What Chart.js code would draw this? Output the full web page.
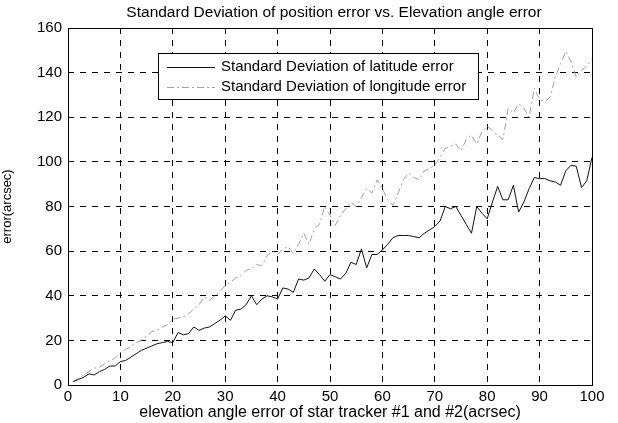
<!DOCTYPE html>
<html>
<head>
<meta charset="utf-8">
<script src="https://cdn.jsdelivr.net/npm/chart.js"></script>
<style>
  html, body { margin: 0; padding: 0; background: #fff; }
  #wrap { width: 618px; height: 423px; }
</style>
</head>
<body>
<div id="wrap"><canvas id="chartErr" width="618" height="423"></canvas></div>
<script>
// elevation angle error (acrsec)
const elevErr = [];
for (let i = 1; i <= 100; i++) elevErr.push(i);

// std dev of latitude error (arcsec)
const latErr = [1.5, 2.5, 3.5, 5, 4.5, 6, 7, 8.5, 8.5, 10.5,
  11, 12.5, 14, 15.5, 16.5, 17.5, 18.5, 19, 19.5, 19,
  23.5, 22.5, 23, 26, 24.5, 25.5, 26, 27.5, 29, 31,
  29, 33.5, 34, 36, 40, 36, 38.5, 40, 39.5, 38.5,
  43.5, 43, 41.5, 47.5, 47, 48, 52, 49.5, 46.5, 49.5,
  48.5, 47.5, 50, 55, 54, 61, 52.5, 58.5, 58.5, 60.5,
  63, 66, 67, 67, 67, 66.5, 66, 68, 69.5, 71,
  73.5, 80, 79, 80, 76, 72, 68, 80, 77, 74.5,
  82, 89, 83, 83, 89.5, 77.5, 82, 88, 93, 92.5,
  92.5, 91.5, 91, 89.5, 96, 98.5, 98, 88.5, 91.5, 102];

// std dev of longitude error (arcsec)
const lonErr = [1.5, 3, 4.5, 6, 7.5, 8, 9.5, 11, 12, 14.5,
  16, 17, 19, 20, 22, 24, 24.5, 26, 27, 29.5,
  30, 30.5, 32, 34, 36, 39.5, 38, 40, 42, 44.5,
  46, 48, 49, 51.5, 52, 54, 53.5, 58, 60, 58.5,
  61, 62, 59, 63, 68, 63, 70, 72, 80, 76,
  71.5, 76, 79, 82, 80, 84, 88, 86, 92, 88,
  83, 80.5, 86, 92, 95, 93, 92, 96, 97, 98.5,
  102, 106, 107, 108, 105, 110, 112, 108, 113.5, 116,
  114, 112, 110, 124, 122, 126, 124, 120, 133, 128,
  127, 129, 138, 144, 149.5, 145, 138, 141, 143, 146];

const xTicks = [0, 10, 20, 30, 40, 50, 60, 70, 80, 90, 100];
const yTicks = [0, 20, 40, 60, 80, 100, 120, 140, 160];

const chartTitle = 'Standard Deviation of position error vs. Elevation angle error';
const seriesNames = ['Standard Deviation of latitude error', 'Standard Deviation of longitude error'];

const FONT = '"Liberation Sans", Arial, sans-serif';

// title centred over the axes, plot frame, and matlab-like legend inside the axes
const frameAndLegend = {
  id: 'frameAndLegend',
  afterDatasetsDraw(chart) {
    const { ctx, chartArea: a } = chart;
    ctx.save();
    ctx.strokeStyle = '#000';
    ctx.lineWidth = 1;
    ctx.setLineDash([]);
    ctx.strokeRect(a.left + 0.5, a.top + 0.5, a.right - a.left, a.bottom - a.top);

    ctx.fillStyle = '#000';
    ctx.font = '15.5px ' + FONT;
    ctx.textAlign = 'center';
    ctx.textBaseline = 'middle';
    ctx.fillText(chartTitle, (a.left + a.right) / 2 + 4, 13);

    // legend box
    const bx = a.left + 90, by = a.top + 25, bw = 320, bh = 46;
    ctx.fillStyle = '#fff';
    ctx.fillRect(bx, by, bw, bh);
    ctx.strokeRect(bx + 0.5, by + 0.5, bw, bh);
    ctx.font = '15px ' + FONT;
    ctx.textAlign = 'left';
    ctx.fillStyle = '#000';
    const ds = chart.data.datasets;
    for (let i = 0; i < 2; i++) {
      const yy = by + 14 + i * 20;
      ctx.strokeStyle = ds[i].borderColor;
      ctx.setLineDash(ds[i].borderDash || []);
      ctx.beginPath();
      ctx.moveTo(bx + 9, yy + 0.5);
      ctx.lineTo(bx + 57, yy + 0.5);
      ctx.stroke();
      ctx.fillText(seriesNames[i], bx + 63, yy);
    }
    ctx.restore();
  }
};

new Chart(document.getElementById('chartErr').getContext('2d'), {
  type: 'line',
  data: {
    labels: elevErr,
    datasets: [
      {
        label: seriesNames[0],
        data: latErr,
        borderColor: '#111',
        borderWidth: 1,
        pointRadius: 0,
        tension: 0
      },
      {
        label: seriesNames[1],
        data: lonErr,
        borderColor: '#a0a0a0',
        borderWidth: 1,
        borderDash: [7, 3, 2, 3],
        pointRadius: 0,
        tension: 0
      }
    ]
  },
  options: {
    responsive: false,
    animation: false,
    devicePixelRatio: 1,
    layout: { padding: { top: 28, right: 26, bottom: 0, left: 0 } },
    plugins: {
      legend: { display: false },
      tooltip: { enabled: false },
      title: { display: false }
    },
    scales: {
      x: {
        type: 'linear',
        min: 0,
        max: 100,
        afterBuildTicks(s) { s.ticks = xTicks.map(v => ({ value: v })); },
        afterFit(s) { s.height = 38; },
        grid: {
          color: '#000',
          lineWidth: 1,
          drawTicks: false
        },
        border: { display: false, dash: [6, 6] },
        ticks: {
          color: '#000',
          padding: 3,
          maxRotation: 0,
          font: { family: FONT, size: 15 }
        },
        title: {
          display: true,
          text: 'elevation angle error of star tracker #1 and #2(acrsec)',
          color: '#000',
          font: { family: FONT, size: 16 },
          padding: { top: 0, bottom: 1 }
        }
      },
      y: {
        min: 0,
        max: 160,
        afterBuildTicks(s) { s.ticks = yTicks.map(v => ({ value: v })); },
        afterFit(s) { s.width = 68; },
        grid: {
          color: '#000',
          lineWidth: 1,
          drawTicks: false
        },
        border: { display: false, dash: [6, 6] },
        ticks: {
          color: '#000',
          padding: 6,
          font: { family: FONT, size: 15 }
        },
        title: {
          display: true,
          text: 'error(arcsec)',
          color: '#000',
          font: { family: FONT, size: 13 },
          padding: { top: 0, bottom: 4 }
        }
      }
    }
  },
  plugins: [frameAndLegend]
});
</script>
</body>
</html>
